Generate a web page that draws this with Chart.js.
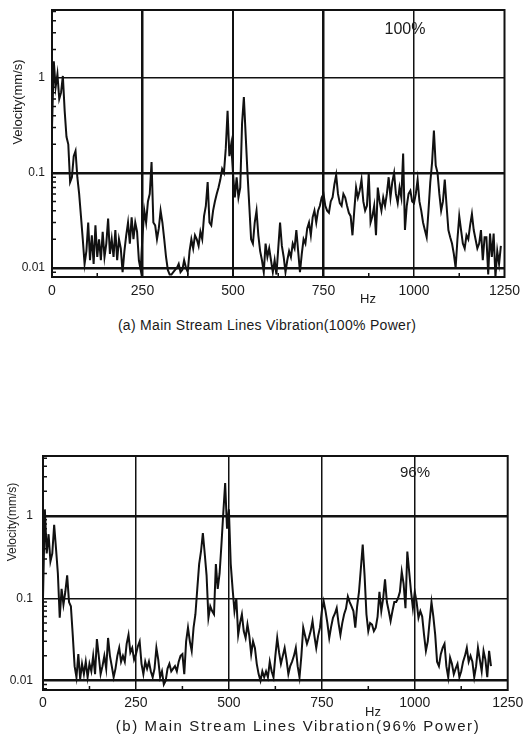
<!DOCTYPE html>
<html>
<head>
<meta charset="utf-8">
<script src="https://cdn.jsdelivr.net/npm/chart.js@4.4.0/dist/chart.umd.min.js"></script>
<style>
  body { margin: 0; background: #fff; width: 525px; height: 744px; position: relative; overflow: hidden;
         font-family: "Liberation Sans", Arial, sans-serif; color: #1a1a1a; }
  .box { position: absolute; left: 0; width: 525px; }
  #boxA { top: 0; height: 310px; }
  #boxB { top: 446px; height: 280px; }
  .caption { position: absolute; white-space: nowrap; transform: translate(-50%, -50%); }
  #capA { left: 267px; top: 325px; font-size: 14px; letter-spacing: 0.3px; }
  #capB { left: 298px; top: 725px; font-size: 15px; letter-spacing: 1.6px; }
</style>
</head>
<body>
<div class="box" id="boxA"><canvas id="chartA"></canvas></div>
<div class="box" id="boxB"><canvas id="chartB"></canvas></div>
<div class="caption" id="capA">(a) Main Stream Lines Vibration(100% Power)</div>
<div class="caption" id="capB">(b) Main Stream Lines Vibration(96% Power)</div>
<script>
// spectra, one value every 5 Hz starting at 0 Hz
const STEP_HZ = 5;

const velocityA = [
  0.3, 1.5, 0.8, 1.1, 0.6, 0.7, 1.05, 0.45, 0.24, 0.2,
  0.08, 0.09, 0.15, 0.17, 0.09, 0.06, 0.035, 0.02, 0.011, 0.015,
  0.03, 0.012, 0.022, 0.011, 0.028, 0.013, 0.02, 0.012, 0.024, 0.013,
  0.018, 0.033, 0.014, 0.02, 0.013, 0.025, 0.012, 0.02, 0.016, 0.009,
  0.015, 0.022, 0.03, 0.018, 0.034, 0.02, 0.03, 0.024, 0.012, 0.0095,
  0.022, 0.04, 0.03, 0.05, 0.06, 0.13, 0.03, 0.028, 0.02, 0.026,
  0.04, 0.03, 0.02, 0.013, 0.0095, 0.0085, 0.0085, 0.009, 0.0095, 0.01,
  0.011, 0.009, 0.0095, 0.012, 0.01, 0.009, 0.015, 0.02, 0.016, 0.022,
  0.02, 0.017, 0.024, 0.02, 0.035, 0.045, 0.08, 0.03, 0.028, 0.04,
  0.05, 0.06, 0.07, 0.085, 0.11, 0.1, 0.18, 0.45, 0.15, 0.2,
  0.1, 0.055, 0.09, 0.055, 0.07, 0.33, 0.63, 0.25, 0.1, 0.045,
  0.02, 0.018, 0.03, 0.04, 0.022, 0.015, 0.012, 0.009, 0.018, 0.013,
  0.016, 0.012, 0.009, 0.012, 0.0085, 0.016, 0.03, 0.017, 0.013, 0.009,
  0.012, 0.015, 0.013, 0.018, 0.016, 0.025, 0.015, 0.009, 0.014, 0.02,
  0.018, 0.026, 0.03, 0.022, 0.034, 0.04, 0.03, 0.04, 0.045, 0.055,
  0.06, 0.045, 0.04, 0.038, 0.05, 0.055, 0.075, 0.095, 0.06, 0.048,
  0.045, 0.06, 0.055, 0.045, 0.038, 0.035, 0.022, 0.04, 0.07, 0.055,
  0.065, 0.085, 0.05, 0.04, 0.045, 0.1, 0.03, 0.035, 0.045, 0.022,
  0.07, 0.05, 0.04, 0.055, 0.045, 0.06, 0.09, 0.055, 0.08, 0.1,
  0.06, 0.048, 0.07, 0.055, 0.16, 0.025, 0.045, 0.06, 0.065, 0.05,
  0.048, 0.06, 0.085, 0.05, 0.04, 0.03, 0.025, 0.021, 0.04, 0.08,
  0.13, 0.28, 0.12, 0.1, 0.06, 0.04, 0.05, 0.085, 0.045, 0.025,
  0.021, 0.018, 0.014, 0.01, 0.02, 0.035, 0.025, 0.018, 0.016, 0.022,
  0.02, 0.028, 0.037, 0.025, 0.02, 0.016, 0.018, 0.025, 0.012, 0.021,
  0.021, 0.0085, 0.023, 0.013, 0.023, 0.008, 0.015, 0.011, 0.017
];

const velocityB = [
  0.1, 1.2, 0.35, 0.6, 0.28, 0.35, 0.78, 0.4, 0.2, 0.058,
  0.13, 0.084, 0.12, 0.19, 0.09, 0.08, 0.036, 0.015, 0.011, 0.021,
  0.0105, 0.016, 0.012, 0.017, 0.011, 0.016, 0.013, 0.02, 0.012, 0.032,
  0.02, 0.012, 0.015, 0.02, 0.014, 0.033, 0.02, 0.015, 0.011, 0.014,
  0.02, 0.025, 0.017, 0.02, 0.017, 0.028, 0.036, 0.022, 0.025, 0.018,
  0.021, 0.026, 0.03, 0.016, 0.012, 0.017, 0.014, 0.017, 0.013, 0.011,
  0.014, 0.025, 0.018, 0.011, 0.013, 0.009, 0.01, 0.014, 0.016, 0.013,
  0.014, 0.015, 0.013, 0.017, 0.02, 0.021, 0.012, 0.03, 0.044, 0.03,
  0.023, 0.044, 0.064, 0.13, 0.26, 0.37, 0.62, 0.35, 0.19, 0.058,
  0.08, 0.07, 0.064, 0.26, 0.13, 0.2, 0.45, 1.1, 2.5, 0.7,
  1.2, 0.26, 0.13, 0.07, 0.1, 0.036, 0.05, 0.064, 0.04, 0.033,
  0.048, 0.035, 0.021, 0.03, 0.025, 0.016, 0.012, 0.01, 0.013, 0.011,
  0.013, 0.011, 0.017, 0.013, 0.011, 0.02, 0.033, 0.022, 0.016, 0.02,
  0.025, 0.018, 0.012, 0.015, 0.017, 0.02, 0.025, 0.015, 0.011, 0.02,
  0.044, 0.035, 0.028, 0.033, 0.04, 0.053, 0.035, 0.025, 0.035, 0.044,
  0.07, 0.092, 0.07, 0.05, 0.033, 0.045, 0.058, 0.065, 0.076, 0.05,
  0.036, 0.05, 0.064, 0.075, 0.105, 0.09, 0.08, 0.07, 0.044, 0.08,
  0.12, 0.23, 0.45, 0.19, 0.064, 0.04, 0.05, 0.048, 0.04, 0.044,
  0.06, 0.12, 0.07, 0.1, 0.17, 0.09, 0.07, 0.053, 0.07, 0.09,
  0.09, 0.1, 0.12, 0.21, 0.15, 0.076, 0.37, 0.21, 0.12, 0.076,
  0.12, 0.09, 0.058, 0.07, 0.06, 0.036, 0.023, 0.03, 0.053, 0.09,
  0.06, 0.036, 0.017, 0.015, 0.021, 0.025, 0.028, 0.015, 0.011, 0.019,
  0.016, 0.012, 0.014, 0.016, 0.011, 0.013, 0.017, 0.02, 0.025, 0.017,
  0.02, 0.017, 0.011, 0.015, 0.025, 0.018, 0.013, 0.023, 0.018, 0.011,
  0.023, 0.015
];

const hzTicks = [0, 250, 500, 750, 1000, 1250];
const velocityTicks = [0.01, 0.1, 1];
const minorHz = [125, 375, 625, 875, 1125];

const FONT = '"Liberation Sans", Arial, sans-serif';

// frame, small inner ticks and the free-standing labels
const framePlugin = {
  id: 'frame',
  afterDraw(chart, args, o) {
    const { ctx, chartArea: a, scales: { x, y } } = chart;
    ctx.save();
    ctx.strokeStyle = '#111';
    ctx.lineWidth = 1.5;
    ctx.beginPath();
    for (let e = -3; e <= 0; e++) {
      for (let m = 2; m <= 9; m++) {
        const v = m * Math.pow(10, e);
        if (v < y.min || v > y.max) continue;
        const py = y.getPixelForValue(v);
        ctx.moveTo(a.left, py);
        ctx.lineTo(a.left + 4, py);
      }
    }
    minorHz.forEach(h => {
      const px = x.getPixelForValue(h);
      ctx.moveTo(px, a.bottom);
      ctx.lineTo(px, a.bottom - 4);
    });
    ctx.stroke();
    ctx.lineWidth = 2;
    ctx.strokeRect(a.left, a.top, a.right - a.left, a.bottom - a.top);

    ctx.fillStyle = '#1a1a1a';
    ctx.textAlign = 'center';
    ctx.textBaseline = 'middle';
    ctx.font = o.percentSize + 'px ' + FONT;
    ctx.fillText(o.percent, o.percentX, o.percentY);
    ctx.font = '13px ' + FONT;
    ctx.fillText('Hz', o.hzX, o.hzY);
    ctx.translate(o.titleX, o.titleY);
    ctx.rotate(-Math.PI / 2);
    ctx.font = o.titleSize + 'px ' + FONT;
    ctx.fillText('Velocity(mm/s)', 0, 0);
    ctx.restore();
  }
};

function makeChart(id, values, s) {
  const points = values.map((v, i) => ({ x: i * STEP_HZ, y: v }));
  return new Chart(document.getElementById(id), {
    type: 'line',
    data: {
      datasets: [{
        data: points,
        borderColor: '#111',
        borderWidth: 2,
        pointRadius: 0,
        tension: 0,
        fill: false
      }]
    },
    options: {
      responsive: true,
      maintainAspectRatio: false,
      animation: false,
      layout: { padding: { left: 0, right: s.padRight, top: s.padTop, bottom: 0 } },
      plugins: {
        legend: { display: false },
        tooltip: { enabled: false },
        frame: s.frame
      },
      scales: {
        x: {
          type: 'linear',
          min: 0,
          max: 1250,
          afterBuildTicks: sc => { sc.ticks = hzTicks.map(v => ({ value: v })); },
          afterFit: sc => { sc.height = s.xHeight; sc.paddingLeft = 0; sc.paddingRight = 0; },
          border: { display: false },
          grid: {
            drawTicks: false,
            color: '#111',
            lineWidth: c => s.vGrid[c.tick.value] || 0
          },
          ticks: {
            padding: s.xPad,
            color: '#1a1a1a',
            font: { family: FONT, size: 14 },
            maxRotation: 0,
            callback: v => String(v)
          }
        },
        y: {
          type: 'logarithmic',
          min: s.yMin,
          max: s.yMax,
          afterBuildTicks: sc => { sc.ticks = velocityTicks.map(v => ({ value: v })); },
          afterFit: sc => { sc.width = s.yWidth; sc.paddingTop = 0; sc.paddingBottom = 0; },
          border: { display: false },
          grid: {
            drawTicks: false,
            color: '#111',
            lineWidth: c => s.hGrid[c.tick.value] || 0
          },
          ticks: {
            padding: s.yPad,
            color: '#1a1a1a',
            font: { family: FONT, size: 12 },
            callback: v => String(v)
          }
        }
      }
    },
    plugins: [framePlugin]
  });
}

makeChart('chartA', velocityA, {
  padRight: 20.5, padTop: 10, xHeight: 33, yWidth: 52, xPad: 6, yPad: 7,
  yMin: 0.008, yMax: 5.2,
  vGrid: { 250: 2.5, 500: 2, 750: 2.5, 1000: 1.5 },
  hGrid: { 0.01: 2.5, 0.1: 2.5, 1: 1.5 },
  frame: { percent: '100%', percentSize: 16, percentX: 405, percentY: 30,
           hzX: 368, hzY: 299, titleX: 18, titleY: 102, titleSize: 13 }
});

makeChart('chartB', velocityB, {
  padRight: 17.3, padTop: 10, xHeight: 36, yWidth: 43, xPad: 5, yPad: 10,
  yMin: 0.0077, yMax: 5.34,
  vGrid: { 250: 1.5, 500: 1.5, 750: 1.5, 1000: 1.5 },
  hGrid: { 0.01: 2.5, 0.1: 1.5, 1: 2.5 },
  frame: { percent: '96%', percentSize: 15, percentX: 415, percentY: 27,
           hzX: 373, hzY: 266, titleX: 13, titleY: 76, titleSize: 12 }
});
</script>
</body>
</html>
